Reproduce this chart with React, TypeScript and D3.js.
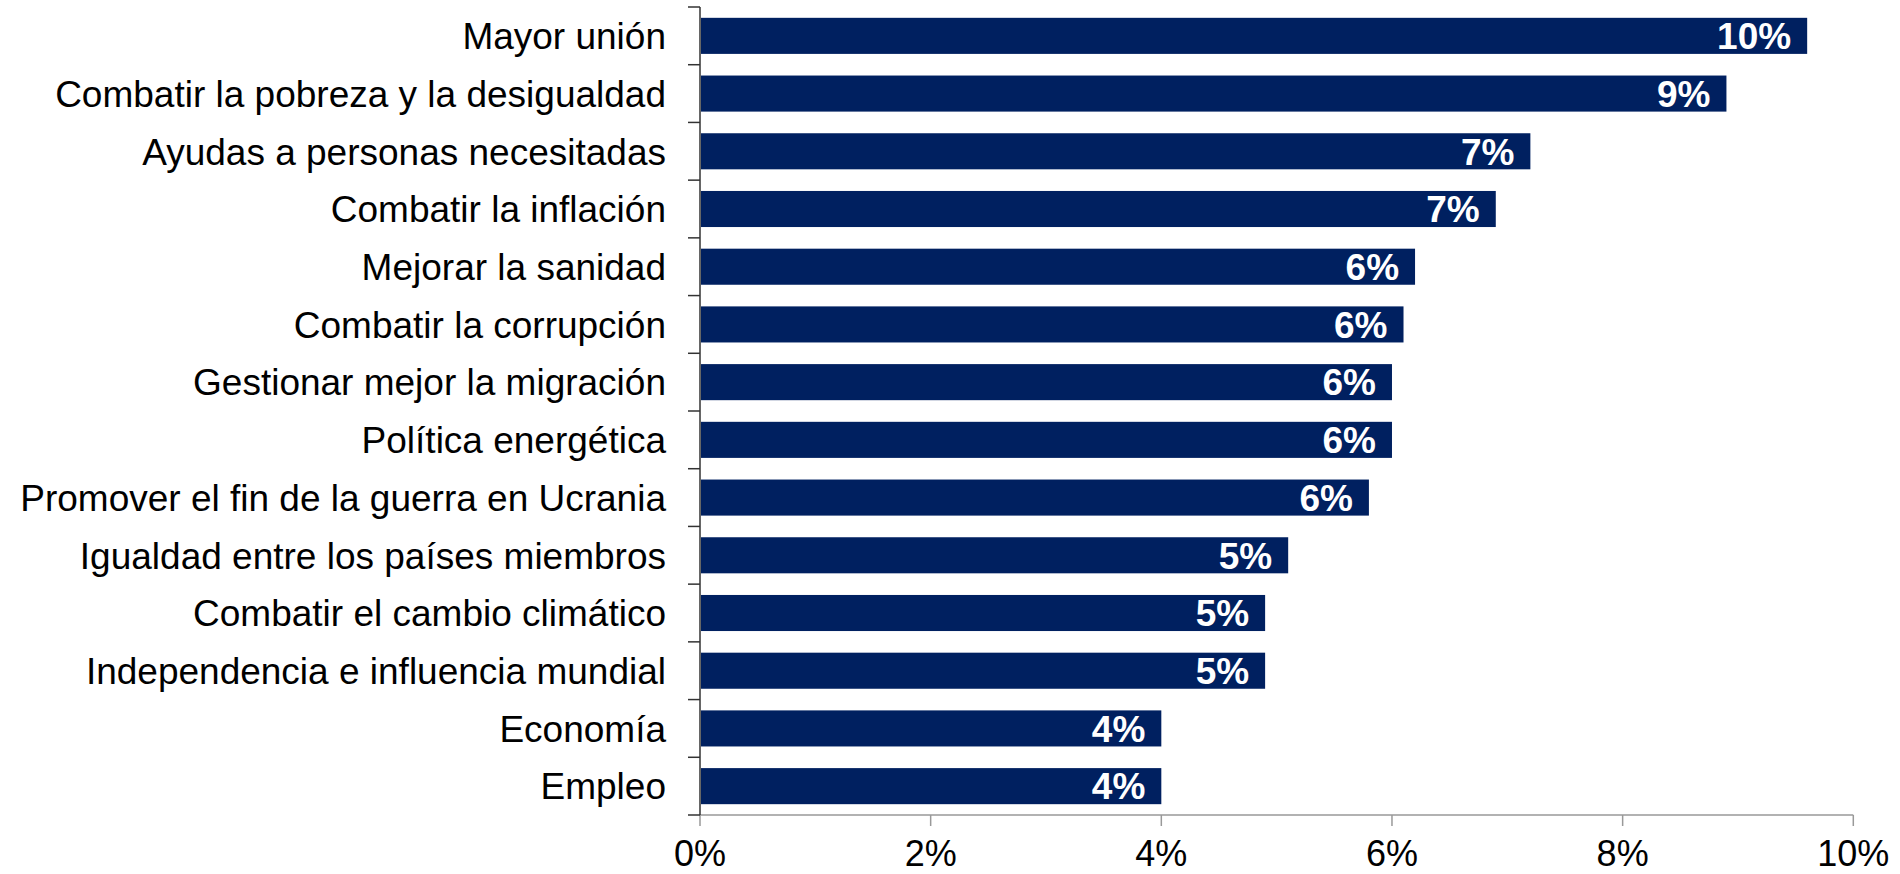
import React from "react";
import * as d3 from "d3";

const categories = [
  "Mayor unión",
  "Combatir la pobreza y la desigualdad",
  "Ayudas a personas necesitadas",
  "Combatir la inflación",
  "Mejorar la sanidad",
  "Combatir la corrupción",
  "Gestionar mejor la migración",
  "Política energética",
  "Promover el fin de la guerra en Ucrania",
  "Igualdad entre los países miembros",
  "Combatir el cambio climático",
  "Independencia e influencia mundial",
  "Economía",
  "Empleo",
];

const values = [9.6, 8.9, 7.2, 6.9, 6.2, 6.1, 6.0, 6.0, 5.8, 5.1, 4.9, 4.9, 4.0, 4.0];

const xTicks = [0, 2, 4, 6, 8, 10];

const W = 1900;
const H = 874;
const left = 700;
const right = 1853.3;
const top = 7;
const bottom = 815;

export default function App() {
  const x = d3.scaleLinear().domain([0, 10]).range([left, right]);
  const y = d3
    .scaleBand<string>()
    .domain(categories)
    .range([top, bottom])
    .paddingInner(0.375)
    .paddingOuter(0.1875);
  const step = y.step();
  const font = "Liberation Sans, Arial, sans-serif";

  return (
    <svg
      width={W}
      height={H}
      style={{ position: "absolute", left: 0, top: 0, background: "#fff" }}
      fontFamily={font}
    >
      {/* bars */}
      {categories.map((c, i) => (
        <g key={c}>
          <rect
            x={x(0) + 1}
            y={y(c)!}
            width={x(values[i]) - x(0) - 1}
            height={y.bandwidth()}
            fill="#002060"
          />
          <text
            x={x(values[i]) - 16}
            y={y(c)! + y.bandwidth() / 2}
            dy="0.36em"
            textAnchor="end"
            fill="#fff"
            fontWeight="bold"
            fontSize={37}
          >
            {Math.round(values[i])}%
          </text>
          <text
            x={666}
            y={y(c)! + y.bandwidth() / 2}
            dy="0.36em"
            textAnchor="end"
            fill="#000"
            fontSize={37}
          >
            {c}
          </text>
        </g>
      ))}

      {/* x axis */}
      <line x1={left} x2={right} y1={bottom} y2={bottom} stroke="#999" strokeWidth={1.5} />
      {xTicks.map((t) => (
        <g key={t}>
          <line x1={x(t)} x2={x(t)} y1={bottom} y2={bottom + 11} stroke="#999" strokeWidth={1.5} />
          <text x={x(t)} y={866} textAnchor="middle" fontSize={36} fill="#000">
            {t}%
          </text>
        </g>
      ))}

      {/* y axis */}
      <line x1={left} x2={left} y1={top} y2={bottom} stroke="#333" strokeWidth={1.5} />
      {d3.range(categories.length + 1).map((i) => (
        <line
          key={i}
          x1={left - 12}
          x2={left}
          y1={top + i * step}
          y2={top + i * step}
          stroke="#333"
          strokeWidth={1.5}
        />
      ))}
    </svg>
  );
}
